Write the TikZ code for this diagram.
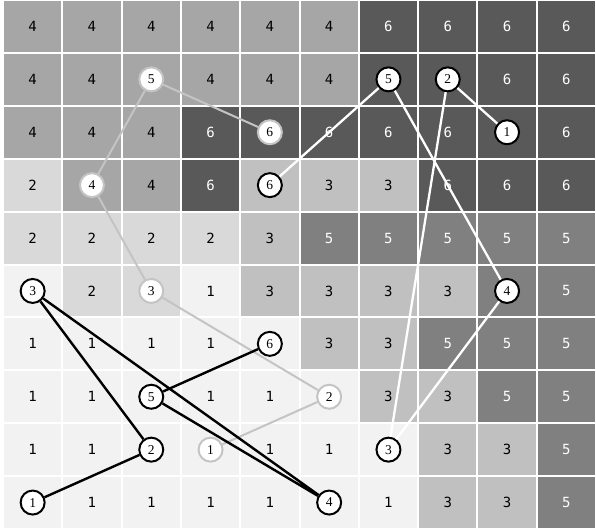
\documentclass[tikz,border=0pt]{standalone}
\usepackage{fontspec}
\setmainfont{Liberation Serif}
\newfontfamily\cellfont{DejaVu Sans Mono}
\usepackage{tikz}
\definecolor{shade1}{HTML}{F2F2F2}
\definecolor{shade2}{HTML}{D9D9D9}
\definecolor{shade3}{HTML}{C0C0C0}
\definecolor{shade4}{HTML}{A6A6A6}
\definecolor{shade5}{HTML}{808080}
\definecolor{shade6}{HTML}{595959}
\definecolor{trailgray}{HTML}{C4C4C4}

\tikzset{
  cellbox/.style={rectangle,inner sep=0pt,minimum width=57.3pt,minimum height=50.9pt,
    font=\cellfont\fontsize{14}{14}\selectfont},
  lvl1/.style={fill=shade1},
  lvl2/.style={fill=shade2},
  lvl3/.style={fill=shade3},
  lvl4/.style={fill=shade4},
  lvl5/.style={fill=shade5,text=white},
  lvl6/.style={fill=shade6,text=white},
  spot/.style={circle,draw=black,fill=white,line width=2pt,minimum size=24pt,inner sep=0pt,
    font=\fontsize{13.5}{13.5}\selectfont},
  grayspot/.style={spot,draw=trailgray},
  graypath/.style={line width=2pt,trailgray},
  whitepath/.style={line width=2.3pt,white},
  blackpath/.style={line width=2.4pt,black}
}

\begin{document}
\begin{tikzpicture}[x=59.3pt,y=-52.9pt]
  \useasboundingbox[fill=white] ([xshift=-3pt]0,0) rectangle (10,10);
  \foreach \row [count=\r] in {
      {4/4,4/4,4/4,4/4,4/4,4/4,6/6,6/6,6/6,6/6},
      {4/4,4/4,4/,4/4,4/4,4/4,6/,6/,6/6,6/6},
      {4/4,4/4,4/4,6/6,6/,6/6,6/6,6/6,6/,6/6},
      {2/2,4/,4/4,6/6,3/,3/3,3/3,6/6,6/6,6/6},
      {2/2,2/2,2/2,2/2,3/3,5/5,5/5,5/5,5/5,5/5},
      {1/,2/2,2/,1/1,3/3,3/3,3/3,3/3,5/,5/5},
      {1/1,1/1,1/1,1/1,1/,3/3,3/3,5/5,5/5,5/5},
      {1/1,1/1,1/,1/1,1/1,1/,3/3,3/3,5/5,5/5},
      {1/1,1/1,1/,1/,1/1,1/1,1/,3/3,3/3,5/5},
      {1/,1/1,1/1,1/1,1/1,1/,1/1,3/3,3/3,5/5}}
    \foreach \v/\t [count=\c] in \row
      \node[cellbox,lvl\v] (cell-\r-\c) at (\c-0.5,\r-0.5) {\t};

  \node[grayspot] (g1) at (3.5,8.5) {1};
  \node[grayspot] (g2) at (5.5,7.5) {2};
  \node[grayspot] (g3) at (2.5,5.5) {3};
  \node[grayspot] (g4) at (1.5,3.5) {4};
  \node[grayspot] (g5) at (2.5,1.5) {5};
  \node[grayspot] (g6) at (4.5,2.5) {6};

  \node[spot] (w1) at (8.5,2.5) {1};
  \node[spot] (w2) at (7.5,1.5) {2};
  \node[spot] (w3) at (6.5,8.5) {3};
  \node[spot] (w4) at (8.5,5.5) {4};
  \node[spot] (w5) at (6.5,1.5) {5};
  \node[spot] (w6) at (4.5,3.5) {6};

  \node[spot] (b1) at (0.5,9.5) {1};
  \node[spot] (b2) at (2.5,8.5) {2};
  \node[spot] (b3) at (0.5,5.5) {3};
  \node[spot] (b4) at (5.5,9.5) {4};
  \node[spot] (b5) at (2.5,7.5) {5};
  \node[spot] (b6) at (4.5,6.5) {6};

  \draw[graypath] (g1) -- (g2) -- (g3) -- (g4) -- (g5) -- (g6);
  \draw[whitepath] (w1) -- (w2) -- (w3) -- (w4) -- (w5) -- (w6);
  \draw[blackpath] (b1) -- (b2) -- (b3) -- (b4) -- (b5) -- (b6);
\end{tikzpicture}
\end{document}
